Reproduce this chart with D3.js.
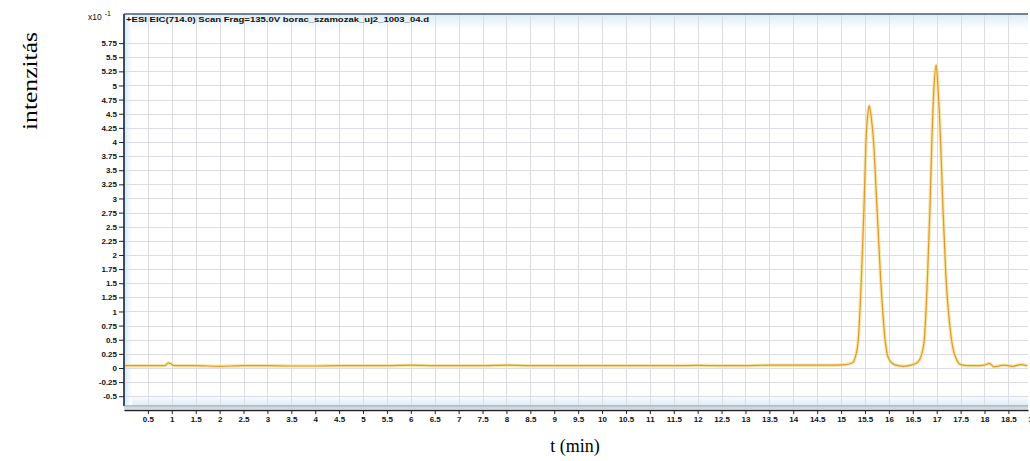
<!DOCTYPE html>
<html>
<head>
<meta charset="utf-8">
<script src="https://cdn.jsdelivr.net/npm/d3@7"></script>
<style>
  body { margin: 0; background: #fff; }
  svg { display: block; }
  .tick text { font-family: "Liberation Sans", Arial, sans-serif; font-weight: bold; }
</style>
</head>
<body>
<div id="chart"></div>
<script>
const width = 1030, height = 461;

// retention time (min) and intensity (x10^-1)
const times = [
  0.02, 0.5, 0.85, 0.93, 0.97, 1.05, 1.5, 2.0, 2.5, 3.0, 3.5, 4.0, 4.5, 5.0, 5.5, 6.0,
  6.5, 7.0, 7.5, 8.0, 8.5, 9.0, 9.5, 10.0, 10.5, 11.0, 11.5, 12.0, 12.5, 13.0, 13.5,
  14.0, 14.5, 14.8, 15.1, 15.2, 15.25, 15.3, 15.36, 15.43, 15.48, 15.52, 15.56, 15.59,
  15.62, 15.68, 15.75, 15.82, 15.92, 15.98, 16.05, 16.15, 16.3,
  16.5, 16.6, 16.67, 16.74, 16.81, 16.86, 16.9, 16.94, 16.99, 17.03, 17.08,
  17.13, 17.19, 17.31, 17.42, 17.5, 17.65, 17.8, 18.0, 18.1, 18.2,
  18.4, 18.6, 18.75, 18.9
];
const intensity = [
  0.04, 0.04, 0.04, 0.09, 0.08, 0.04, 0.04, 0.03, 0.04, 0.04, 0.035, 0.035, 0.04, 0.04, 0.04, 0.05,
  0.04, 0.04, 0.04, 0.05, 0.04, 0.04, 0.04, 0.04, 0.04, 0.04, 0.04, 0.045, 0.04, 0.04, 0.05,
  0.05, 0.05, 0.05, 0.06, 0.08, 0.1, 0.2, 0.5, 1.7, 2.85, 4.0, 4.5, 4.64,
  4.5, 4.0, 2.85, 1.7, 0.5, 0.2, 0.1, 0.05, 0.03,
  0.06, 0.1, 0.2, 0.5, 1.67, 2.85, 4.04, 4.92, 5.36, 4.92, 4.04,
  2.85, 1.67, 0.5, 0.14, 0.06, 0.04, 0.04, 0.05, 0.08, 0.02,
  0.05, 0.03, 0.06, 0.04
];

const yTicks = d3.range(-0.5, 5.76, 0.25);
const xTicks = d3.range(0.5, 19.01, 0.5);
const yLabel = "intenzitás";
const xLabel = "t (min)";
const title = "+ESI EIC(714.0) Scan Frag=135.0V  borac_szamozak_uj2_1003_04.d";

const plot = { left: 124, right: 1028, top: 14, bottom: 406 };

const x = d3.scaleLinear().domain([0, 18.91]).range([plot.left, plot.right]);
const y = d3.scaleLinear().domain([-0.673, 6.265]).range([plot.bottom, plot.top]);

const svg = d3.select("#chart").append("svg")
  .attr("width", width)
  .attr("height", height);

const defs = svg.append("defs");
const gTop = defs.append("linearGradient").attr("id", "topband").attr("x1", 0).attr("x2", 0).attr("y1", 0).attr("y2", 1);
gTop.append("stop").attr("offset", "0%").attr("stop-color", "#dcecf8");
gTop.append("stop").attr("offset", "100%").attr("stop-color", "#ffffff");
const gBot = defs.append("linearGradient").attr("id", "botband").attr("x1", 0).attr("x2", 0).attr("y1", 0).attr("y2", 1);
gBot.append("stop").attr("offset", "0%").attr("stop-color", "#ffffff");
gBot.append("stop").attr("offset", "100%").attr("stop-color", "#dcecf8");
const gLeft = defs.append("linearGradient").attr("id", "leftband");
gLeft.append("stop").attr("offset", "0%").attr("stop-color", "#d4e8f6");
gLeft.append("stop").attr("offset", "100%").attr("stop-color", "#ffffff");
defs.append("clipPath").attr("id", "clip").append("rect")
  .attr("x", plot.left).attr("y", plot.top)
  .attr("width", plot.right - plot.left).attr("height", plot.bottom - plot.top);

// background bands
svg.append("rect").attr("x", plot.left).attr("y", plot.top).attr("width", plot.right - plot.left).attr("height", 16).attr("fill", "url(#topband)");
svg.append("rect").attr("x", plot.left).attr("y", plot.bottom - 12).attr("width", plot.right - plot.left).attr("height", 12).attr("fill", "url(#botband)");
svg.append("rect").attr("x", plot.left).attr("y", plot.top).attr("width", 8).attr("height", plot.bottom - plot.top).attr("fill", "url(#leftband)");

// grid
const grid = svg.append("g").attr("clip-path", "url(#clip)");
grid.selectAll("line.h").data(yTicks).join("line")
  .attr("x1", plot.left).attr("x2", plot.right)
  .attr("y1", d => Math.round(y(d)) + 0.5).attr("y2", d => Math.round(y(d)) + 0.5)
  .attr("stroke", "#dcdce4").attr("stroke-width", 1);
grid.selectAll("line.v").data(xTicks).join("line")
  .attr("y1", plot.top).attr("y2", plot.bottom)
  .attr("x1", d => Math.round(x(d)) + 0.5).attr("x2", d => Math.round(x(d)) + 0.5)
  .attr("stroke", "#dcdce4").attr("stroke-width", 1);

// trace
const pts = times.map((t, i) => [t, intensity[i]]);
const line = d3.line().x(d => x(d[0])).y(d => y(d[1])).curve(d3.curveMonotoneX);
const trace = svg.append("g").attr("clip-path", "url(#clip)");
trace.append("path").datum(pts).attr("d", line)
  .attr("fill", "none").attr("stroke", "#f7dc8a").attr("stroke-width", 3.5).attr("stroke-opacity", 0.7);
trace.append("path").datum(pts).attr("d", line)
  .attr("fill", "none").attr("stroke", "#dc9a2a").attr("stroke-width", 1.2);

// frame
svg.append("line").attr("x1", plot.left).attr("x2", plot.right).attr("y1", plot.top).attr("y2", plot.top)
  .attr("stroke", "#4a5c70").attr("stroke-width", 1.5);
svg.append("line").attr("x1", plot.left).attr("x2", plot.left).attr("y1", plot.top).attr("y2", plot.bottom)
  .attr("stroke", "#3b4e64").attr("stroke-width", 2);
svg.append("line").attr("x1", plot.left).attr("x2", plot.right).attr("y1", plot.bottom).attr("y2", plot.bottom)
  .attr("stroke", "#7d90a4").attr("stroke-width", 1.2);
svg.append("line").attr("x1", plot.left).attr("x2", plot.right).attr("y1", plot.bottom + 2).attr("y2", plot.bottom + 2)
  .attr("stroke", "#9fb2c4").attr("stroke-width", 1);

// y axis
const fmt = d => String(+d.toFixed(2));
svg.append("g")
  .attr("transform", `translate(${plot.left},0)`)
  .call(d3.axisLeft(y).tickValues(yTicks).tickFormat(fmt).tickSize(5).tickPadding(2))
  .call(g => g.select(".domain").remove())
  .call(g => g.selectAll(".tick line").attr("stroke", "#222"))
  .call(g => g.selectAll(".tick text").attr("font-size", 8).attr("fill", "#111"));

// x axis
svg.append("g")
  .attr("transform", `translate(0,${plot.bottom + 4})`)
  .call(d3.axisBottom(x).tickValues(xTicks).tickFormat(fmt).tickSize(4).tickSizeOuter(0).tickPadding(2))
  .call(g => g.select(".domain").attr("stroke", "#222").attr("stroke-width", 1.3))
  .call(g => g.selectAll(".tick line").attr("stroke", "#222"))
  .call(g => g.selectAll(".tick text").attr("font-size", 8).attr("fill", "#111"));

// x10^-1 scale marker
const sc = svg.append("text").attr("x", 88).attr("y", 20)
  .attr("font-family", "Liberation Sans, Arial, sans-serif").attr("font-size", 8.5).attr("fill", "#111");
sc.append("tspan").text("x10");
sc.append("tspan").attr("dx", 3).attr("dy", -4).attr("font-size", 7).text("-1");

// title
svg.append("text").attr("x", plot.left + 2).attr("y", 22)
  .attr("font-family", "Liberation Sans, Arial, sans-serif").attr("font-weight", "bold")
  .attr("font-size", 8).attr("fill", "#111")
  .attr("textLength", 303).attr("lengthAdjust", "spacingAndGlyphs")
  .text(title);

// axis titles
svg.append("text")
  .attr("transform", "translate(37,81) rotate(-90)")
  .attr("text-anchor", "middle")
  .attr("font-family", "Liberation Serif, Times New Roman, serif")
  .attr("font-size", 20).attr("fill", "#000")
  .attr("textLength", 98).attr("lengthAdjust", "spacingAndGlyphs")
  .text(yLabel);
svg.append("text")
  .attr("x", 575).attr("y", 452)
  .attr("text-anchor", "middle")
  .attr("font-family", "Liberation Serif, Times New Roman, serif")
  .attr("font-size", 18).attr("fill", "#000")
  .text(xLabel);
</script>
</body>
</html>
